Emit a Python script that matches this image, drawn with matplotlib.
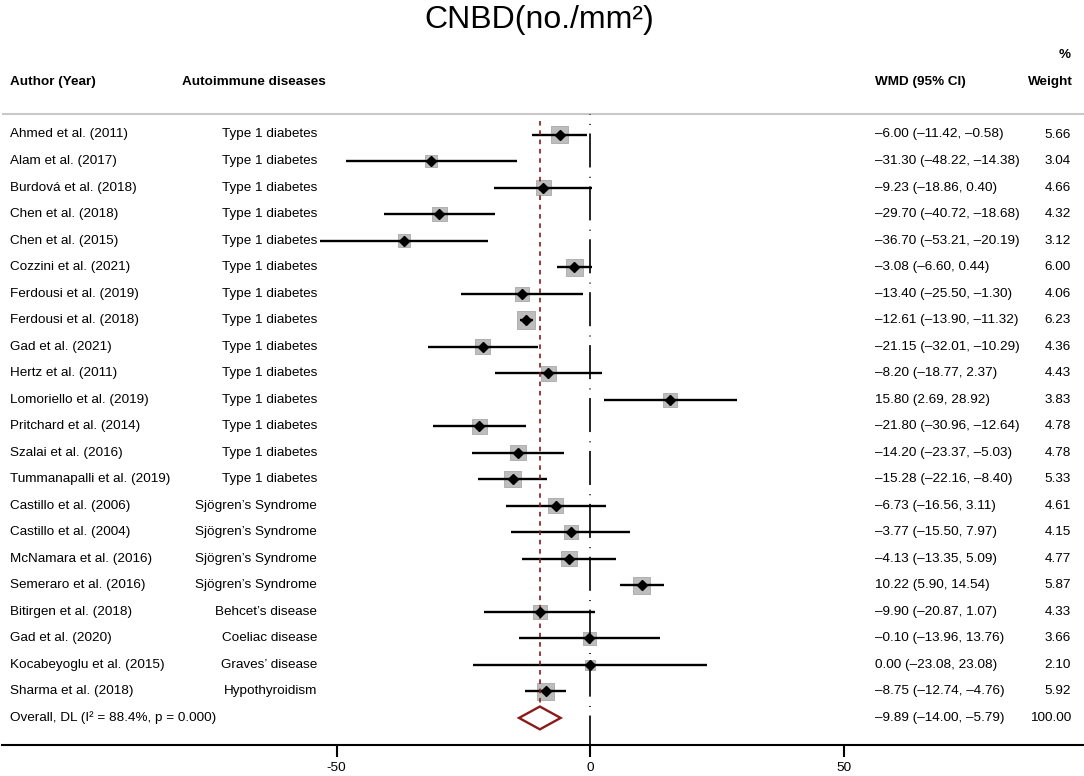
import matplotlib
matplotlib.use("Agg")
import matplotlib.pyplot as plt

plt.rcParams["font.family"] = ["Liberation Sans", "DejaVu Sans"]
plt.rcParams["lines.scale_dashes"] = False
plt.rcParams["axes.unicode_minus"] = False

# ---- data ----
authors = [
    "Ahmed et al. (2011)", "Alam et al. (2017)", "Burdová et al. (2018)",
    "Chen et al. (2018)", "Chen et al. (2015)", "Cozzini et al. (2021)",
    "Ferdousi et al. (2019)", "Ferdousi et al. (2018)", "Gad et al. (2021)",
    "Hertz et al. (2011)", "Lomoriello et al. (2019)", "Pritchard et al. (2014)",
    "Szalai et al. (2016)", "Tummanapalli et al. (2019)", "Castillo et al. (2006)",
    "Castillo et al. (2004)", "McNamara et al. (2016)", "Semeraro et al. (2016)",
    "Bitirgen et al. (2018)", "Gad et al. (2020)", "Kocabeyoglu et al. (2015)",
    "Sharma et al. (2018)",
]
diseases = ["Type 1 diabetes"] * 14 + ["Sjögren’s Syndrome"] * 4 + [
    "Behcet’s disease", "Coeliac disease", "Graves’ disease", "Hypothyroidism"]
wmd = [-6.00, -31.30, -9.23, -29.70, -36.70, -3.08, -13.40, -12.61, -21.15, -8.20,
       15.80, -21.80, -14.20, -15.28, -6.73, -3.77, -4.13, 10.22, -9.90, -0.10,
       0.00, -8.75]
ci_lo = [-11.42, -48.22, -18.86, -40.72, -53.21, -6.60, -25.50, -13.90, -32.01, -18.77,
         2.69, -30.96, -23.37, -22.16, -16.56, -15.50, -13.35, 5.90, -20.87, -13.96,
         -23.08, -12.74]
ci_hi = [-0.58, -14.38, 0.40, -18.68, -20.19, 0.44, -1.30, -11.32, -10.29, 2.37,
         28.92, -12.64, -5.03, -8.40, 3.11, 7.97, 5.09, 14.54, 1.07, 13.76,
         23.08, -4.76]
weight = [5.66, 3.04, 4.66, 4.32, 3.12, 6.00, 4.06, 6.23, 4.36, 4.43, 3.83, 4.78,
          4.78, 5.33, 4.61, 4.15, 4.77, 5.87, 4.33, 3.66, 2.10, 5.92]
overall_label = "Overall, DL (I² = 88.4%, p = 0.000)"
overall = (-9.89, -14.00, -5.79, 100.00)
xticks = [-50, 0, 50]

# ---- layout (pixel geometry of the original) ----
W, H = 1084, 776
X0_PX, PX_PER_UNIT = 590.0, 5.07
ROW0_PX, ROW_PX = 134.5, 26.52
AXIS_PX = 745.0
FS = 9.7
MAROON = "#8b1a1a"


def px2x(p):
    return (p - X0_PX) / PX_PER_UNIT


def px2r(p):
    return (p - ROW0_PX) / ROW_PX


fig = plt.figure(figsize=(W / 100, H / 100), dpi=100)
ax = fig.add_axes([2 / W, (H - AXIS_PX) / H, 1 - 2 / W, AXIS_PX / H])
ax.set_xlim(px2x(2), px2x(W))
ax.set_ylim(px2r(AXIS_PX), px2r(0))

n = len(authors)
rows = list(range(n))
r_over = n

# study boxes, CIs, point estimates
ax.scatter(wmd, rows, s=[25.4 * w for w in weight], marker="s",
           facecolor="#bdbdbd", edgecolor="#a9a9a9", linewidth=0.6, zorder=2)
ax.hlines(rows, ci_lo, ci_hi, color="black", linewidth=1.7, zorder=3)
ax.plot(wmd, rows, "D", color="black", markersize=5.2, zorder=4)

# null line (long dash - dot) and overall line
ax.plot([0, 0], [px2r(114), px2r(AXIS_PX)], color="black", linewidth=1.2,
        linestyle=(24.1, (24.5, 6.7, 0.7, 6.2)), zorder=3)
ax.plot([overall[0]] * 2, [px2r(121), px2r(730)], color=MAROON, linewidth=1.2,
        linestyle=(0, (3.3, 3.4)), zorder=3)

# overall diamond
est, lo, hi, _ = overall
ax.fill([lo, est, hi, est, lo], [r_over, r_over - 0.43, r_over, r_over + 0.43, r_over],
        facecolor="white", edgecolor=MAROON, linewidth=1.7, zorder=5)

# header line
ax.axhline(px2r(113.5), color="#c8c8c8", linewidth=1.5)


def fmt_ci(m, l, h):
    return f"{m:.2f} ({l:.2f}, {h:.2f})".replace("-", "–")


for i in rows:
    ax.text(px2x(10), i, authors[i], ha="left", va="center", fontsize=FS)
    ax.text(px2x(317), i, diseases[i], ha="right", va="center", fontsize=FS)
    ax.text(px2x(875), i, fmt_ci(wmd[i], ci_lo[i], ci_hi[i]), ha="left", va="center", fontsize=FS)
    ax.text(px2x(1071), i, f"{weight[i]:.2f}", ha="right", va="center", fontsize=FS)

ax.text(px2x(10), r_over, overall_label, ha="left", va="center", fontsize=FS)
ax.text(px2x(875), r_over, fmt_ci(est, lo, hi), ha="left", va="center", fontsize=FS)
ax.text(px2x(1071), r_over, f"{overall[3]:.2f}", ha="right", va="center", fontsize=FS)

# column headers
r_head = px2r(82)
ax.text(px2x(10), r_head, "Author (Year)", ha="left", va="center", fontsize=FS, fontweight="bold")
ax.text(px2x(182), r_head, "Autoimmune diseases", ha="left", va="center", fontsize=FS, fontweight="bold")
ax.text(px2x(875), r_head, "WMD (95% CI)", ha="left", va="center", fontsize=FS, fontweight="bold")
ax.text(px2x(1073), r_head, "Weight", ha="right", va="center", fontsize=FS, fontweight="bold")
ax.text(px2x(1071), px2r(55), "%", ha="right", va="center", fontsize=FS, fontweight="bold")

ax.text(px2x(539), px2r(28), "CNBD(no./mm²)", ha="center", va="baseline", fontsize=23)

# axis styling
for side in ["top", "left", "right"]:
    ax.spines[side].set_visible(False)
ax.spines["bottom"].set_linewidth(1.5)
ax.set_yticks([])
ax.set_xticks(xticks)
ax.tick_params(axis="x", direction="out", length=8.6, width=1.5, pad=3.5, labelsize=FS)

fig.savefig("out.png", dpi=100)
